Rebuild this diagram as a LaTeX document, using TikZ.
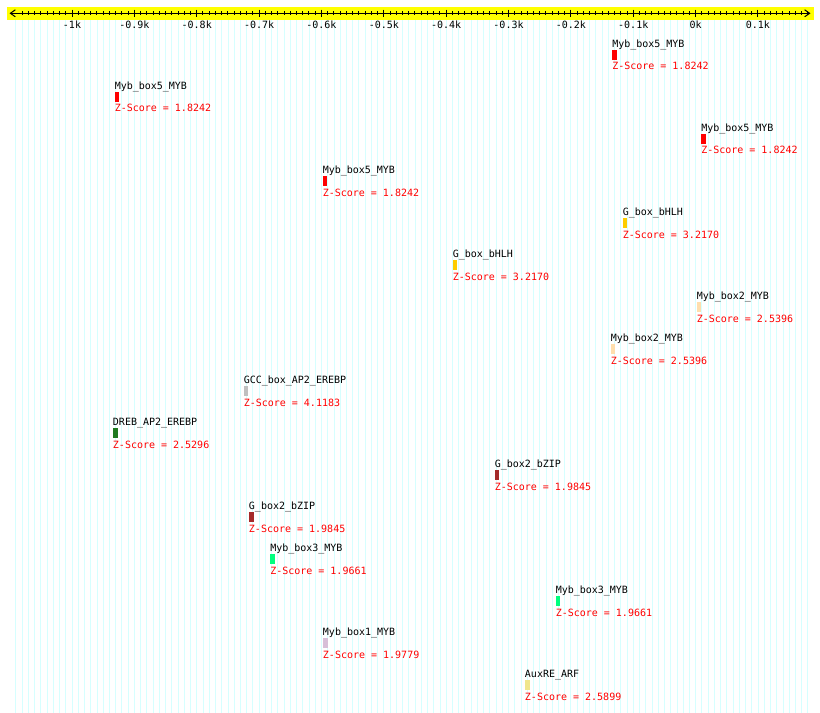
\documentclass[tikz,border=0pt]{standalone}
\usepackage{fontspec}
\usepackage{xcolor}
\usepackage{tikz}
\usetikzlibrary{arrows.meta}
\newfontfamily\pixfont{DejaVu Sans Mono}
\definecolor{AxisYellow}{HTML}{FFFF00}
\definecolor{GridCyan}{HTML}{D6FFFF}
\definecolor{ZRed}{HTML}{FF0000}
\definecolor{MybFiveRed}{HTML}{FF0000}
\definecolor{BhlhGold}{HTML}{FFCC00}
\definecolor{MybTwoPeach}{HTML}{FFDEAD}
\definecolor{GccGray}{HTML}{C0C0C0}
\definecolor{DrebGreen}{HTML}{1F7A1F}
\definecolor{BzipBrown}{HTML}{A52A2A}
\definecolor{MybThreeGreen}{HTML}{00FF7F}
\definecolor{MybOneThistle}{HTML}{D8BFD8}
\definecolor{ArfKhaki}{HTML}{F0E68C}
\tikzset{
  gridline/.style={GridCyan,line width=0.6pt},
  axisline/.style={line width=0.75pt,{Straight Barb[length=3.75pt,width=5.25pt]}-{Straight Barb[length=3.75pt,width=5.25pt]}},
  tickmark/.style={line width=0.75pt},
  ticklabel/.style={anchor=base,inner sep=0pt,font=\pixfont\fontsize{7.5}{9}\selectfont},
  sitelabel/.style={anchor=base west,inner sep=0pt,font=\pixfont\fontsize{7.5}{9}\selectfont},
  zlabel/.style={sitelabel,text=ZRed},
  sitebar/.style={anchor=north west,inner sep=0pt,minimum width=3.5pt,minimum height=7.5pt},
}

\begin{document}
\begin{tikzpicture}[x=0.75pt,y=-0.75pt]
\path[use as bounding box] (0,0) rectangle (820,713);
% grid
\foreach \k in {-109,...,18}
  \draw[gridline] ({695.6+6.236*\k},20.5) -- ({695.6+6.236*\k},713);
% axis band
\fill[AxisYellow] (7,7) rectangle (814,20.5);
\coordinate (axL) at (9.5,13.3);
\coordinate (axR) at (810.5,13.3);
\draw[axisline] (axL) -- (axR);
\foreach \k in {-108,...,18}
  \draw[tickmark] ({695.6+6.236*\k},11.3) -- ({695.6+6.236*\k},15.5);
\foreach \t [count=\i] in {-1k,-0.9k,-0.8k,-0.7k,-0.6k,-0.5k,-0.4k,-0.3k,-0.2k,-0.1k,0k,0.1k}{
  \draw[tickmark] ({72+62.36*(\i-1)},9.7) -- ({72+62.36*(\i-1)},17.3);
  \node[ticklabel] (tick\i) at ({72+62.36*(\i-1)},29) {\t};
}
% sites
\node[sitelabel] (s1) at (612,47.5) {Myb\_box5\_MYB};
\node[sitebar,fill=MybFiveRed] (b1) at (612,49.5) {};
\node[zlabel] (z1) at (612,70) {Z-Score = 1.8242};
\node[sitelabel] (s2) at (114.5,89.5) {Myb\_box5\_MYB};
\node[sitebar,fill=MybFiveRed] (b2) at (114.5,91.5) {};
\node[zlabel] (z2) at (114.5,112) {Z-Score = 1.8242};
\node[sitelabel] (s3) at (701,131.5) {Myb\_box5\_MYB};
\node[sitebar,fill=MybFiveRed] (b3) at (701,133.5) {};
\node[zlabel] (z3) at (701,154) {Z-Score = 1.8242};
\node[sitelabel] (s4) at (322.5,173.5) {Myb\_box5\_MYB};
\node[sitebar,fill=MybFiveRed] (b4) at (322.5,175.5) {};
\node[zlabel] (z4) at (322.5,196) {Z-Score = 1.8242};
\node[sitelabel] (s5) at (622.5,215.5) {G\_box\_bHLH};
\node[sitebar,fill=BhlhGold] (b5) at (622.5,217.5) {};
\node[zlabel] (z5) at (622.5,238) {Z-Score = 3.2170};
\node[sitelabel] (s6) at (452.5,257.5) {G\_box\_bHLH};
\node[sitebar,fill=BhlhGold] (b6) at (452.5,259.5) {};
\node[zlabel] (z6) at (452.5,280) {Z-Score = 3.2170};
\node[sitelabel] (s7) at (696.5,299.5) {Myb\_box2\_MYB};
\node[sitebar,fill=MybTwoPeach] (b7) at (696.5,301.5) {};
\node[zlabel] (z7) at (696.5,322) {Z-Score = 2.5396};
\node[sitelabel] (s8) at (610.5,341.5) {Myb\_box2\_MYB};
\node[sitebar,fill=MybTwoPeach] (b8) at (610.5,343.5) {};
\node[zlabel] (z8) at (610.5,364) {Z-Score = 2.5396};
\node[sitelabel] (s9) at (243.5,383.5) {GCC\_box\_AP2\_EREBP};
\node[sitebar,fill=GccGray] (b9) at (243.5,385.5) {};
\node[zlabel] (z9) at (243.5,406) {Z-Score = 4.1183};
\node[sitelabel] (s10) at (112.7,425.5) {DREB\_AP2\_EREBP};
\node[sitebar,fill=DrebGreen] (b10) at (112.7,427.5) {};
\node[zlabel] (z10) at (112.7,448) {Z-Score = 2.5296};
\node[sitelabel] (s11) at (494.5,467.5) {G\_box2\_bZIP};
\node[sitebar,fill=BzipBrown] (b11) at (494.5,469.5) {};
\node[zlabel] (z11) at (494.5,490) {Z-Score = 1.9845};
\node[sitelabel] (s12) at (248.7,509.5) {G\_box2\_bZIP};
\node[sitebar,fill=BzipBrown] (b12) at (248.7,511.5) {};
\node[zlabel] (z12) at (248.7,532) {Z-Score = 1.9845};
\node[sitelabel] (s13) at (270,551.5) {Myb\_box3\_MYB};
\node[sitebar,fill=MybThreeGreen] (b13) at (270,553.5) {};
\node[zlabel] (z13) at (270,574) {Z-Score = 1.9661};
\node[sitelabel] (s14) at (555.5,593.5) {Myb\_box3\_MYB};
\node[sitebar,fill=MybThreeGreen] (b14) at (555.5,595.5) {};
\node[zlabel] (z14) at (555.5,616) {Z-Score = 1.9661};
\node[sitelabel] (s15) at (322.7,635.5) {Myb\_box1\_MYB};
\node[sitebar,fill=MybOneThistle] (b15) at (322.7,637.5) {};
\node[zlabel] (z15) at (322.7,658) {Z-Score = 1.9779};
\node[sitelabel] (s16) at (524.7,677.5) {AuxRE\_ARF};
\node[sitebar,fill=ArfKhaki] (b16) at (524.7,679.5) {};
\node[zlabel] (z16) at (524.7,700) {Z-Score = 2.5899};
\end{tikzpicture}
\end{document}
